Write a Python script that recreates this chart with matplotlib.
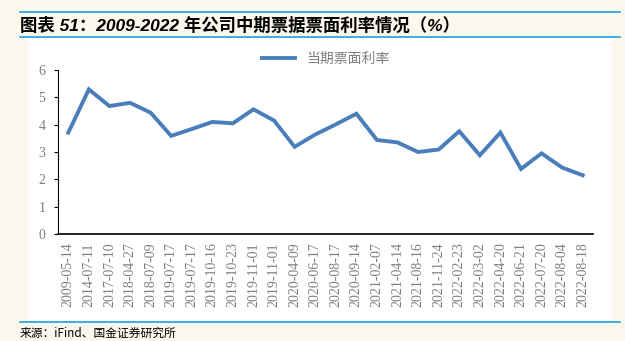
import matplotlib.pyplot as plt
from matplotlib.patches import Rectangle
from matplotlib.lines import Line2D

dates = ["2009-05-14", "2014-07-11", "2017-07-10", "2018-04-27", "2018-07-09",
         "2019-07-17", "2019-07-17", "2019-10-16", "2019-10-23", "2019-11-01",
         "2019-11-01", "2020-04-09", "2020-06-17", "2020-08-17", "2020-09-14",
         "2021-02-07", "2021-04-14", "2021-08-16", "2021-11-24", "2022-02-23",
         "2022-03-02", "2022-04-20", "2022-06-21", "2022-07-20", "2022-08-04",
         "2022-08-18"]
rates = [3.71, 5.29, 4.68, 4.80, 4.44, 3.59, 3.84, 4.10, 4.05, 4.56,
         4.15, 3.19, 3.64, 4.01, 4.40, 3.44, 3.35, 3.00, 3.09, 3.76,
         2.88, 3.71, 2.38, 2.95, 2.43, 2.15]

W, H = 625, 341
fig = plt.figure(figsize=(6.25, 3.41), dpi=100)
fig.patch.set_facecolor("#fdf8ee")

# white panel and the blue rules
fig.patches.append(Rectangle((28 / W, 1 - 322 / H), (612 - 28) / W, (322 - 38) / H,
                             transform=fig.transFigure, facecolor="white",
                             edgecolor="none", zorder=-5))
for yy in (12, 37, 322):
    fig.add_artist(Line2D([20 / W, 620 / W], [1 - yy / H, 1 - yy / H],
                          transform=fig.transFigure, color="#1fa0dc", lw=1.2))

fig.text(20 / W, 1 - 25 / H, "图表 51：2009-2022 年公司中期票据票面利率情况（%）",
         family=["Liberation Sans", "Noto Sans CJK SC"], fontsize=12.5,
         fontweight="bold", style="italic", va="center", ha="left")
fig.text(20 / W, 1 - 333 / H, "来源：iFind、国金证券研究所",
         family=["Noto Sans CJK SC", "DejaVu Sans"], fontsize=8.5,
         va="center", ha="left")

ax = fig.add_axes([58 / W, 1 - 234 / H, (593 - 58) / W, (234 - 70) / H])
ax.set_facecolor("white")
ax.patch.set_alpha(0)
x = list(range(len(dates)))
ax.plot(x, rates, color="#4a7ebb", lw=2.8, solid_joinstyle="miter",
        label="当期票面利率")

ax.set_xlim(-0.5, len(dates) - 0.5)
ax.set_ylim(0, 6)
ax.set_yticks(range(0, 7))
ax.set_xticks(x)
ax.set_xticklabels(dates, rotation=90)
for lab in ax.get_xticklabels() + ax.get_yticklabels():
    lab.set_family("Liberation Serif")
    lab.set_color("#7f7f7f")
    lab.set_fontsize(10)
ax.tick_params(axis="x", length=0, pad=6)
ax.tick_params(axis="y", length=3, direction="out", pad=6)
for s in ("top", "right"):
    ax.spines[s].set_visible(False)
ax.spines["left"].set_color("black")
ax.spines["bottom"].set_color("black")
ax.spines["bottom"].set_linewidth(1.2)

leg = ax.legend(loc="center", bbox_to_anchor=(0.5, 1.07), frameon=False,
                handlelength=2.4, prop={"family": "Noto Sans CJK SC", "size": 10})
for t in leg.get_texts():
    t.set_color("#7f7f7f")

fig.savefig("out.png", dpi=100, facecolor=fig.get_facecolor())
